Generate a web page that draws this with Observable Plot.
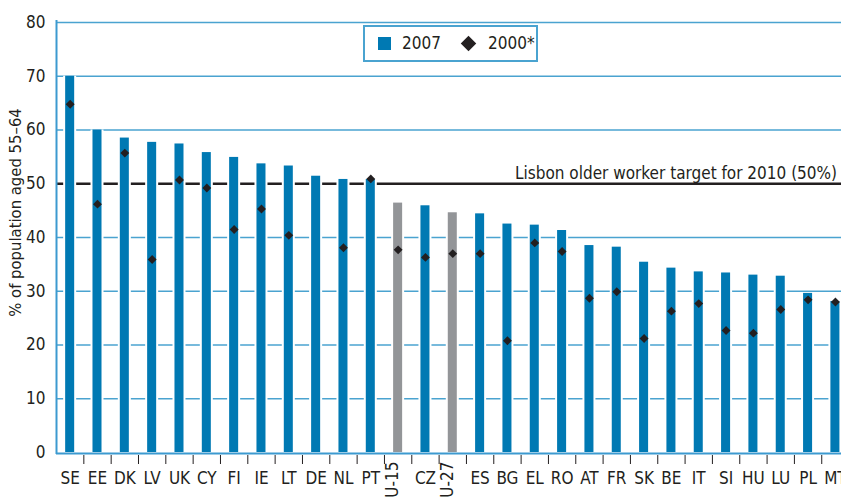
<!DOCTYPE html>
<html>
<head>
<meta charset="utf-8">
<script src="https://cdn.jsdelivr.net/npm/d3@7"></script>
<script src="https://cdn.jsdelivr.net/npm/@observablehq/plot@0.6"></script>
<style>
  html, body { margin: 0; padding: 0; background: #fff; overflow: hidden; }
  #wrap { position: relative; width: 841px; height: 497px; font-family: "Liberation Sans Narrow", "Arial Narrow", "DejaVu Sans Condensed", sans-serif; color: #231f20; }
  #legend { position: absolute; left: 363px; top: 25px; width: 171px; height: 33px; border: 2px solid #4aa3d0; background: #fff; font-size: 17px; }
  #legend .sq { position: absolute; left: 13px; top: 10px; width: 13px; height: 13px; background: #0079b3; }
  #legend .dm { position: absolute; left: 98px; top: 11px; width: 11px; height: 11px; background: #231f20; transform: rotate(45deg); }
  #legend .t { position: absolute; top: 0; line-height: 33px; }
</style>
</head>
<body>
<div id="wrap">
  <div id="chart"></div>
  <div id="legend">
    <div class="sq"></div><div class="t" style="left:37px">2007</div>
    <div class="dm"></div><div class="t" style="left:123px">2000*</div>
  </div>
</div>
<script>
const countries = ["SE","EE","DK","LV","UK","CY","FI","IE","LT","DE","NL","PT","EU-15","CZ","EU-27","ES","BG","EL","RO","AT","FR","SK","BE","IT","SI","HU","LU","PL","MT"];
const values2007 = [70.0,60.0,58.5,57.7,57.4,55.8,54.9,53.7,53.3,51.4,50.8,50.8,46.4,45.9,44.6,44.4,42.5,42.3,41.3,38.5,38.2,35.4,34.3,33.6,33.4,33.0,32.8,29.6,28.1];
const values2000 = [64.8,46.2,55.7,35.9,50.7,49.2,41.5,45.3,40.4,null,38.1,50.9,37.7,36.3,37.0,37.0,20.8,39.0,37.4,28.7,29.9,21.2,26.3,27.7,22.7,22.2,26.6,28.4,28.0];
const aggregates = ["EU-15","EU-27"];
const yTicks = [0,10,20,30,40,50,60,70,80];
const gridTicks = [10,20,30,40,50,60,70,80];
const lisbonTarget = 50;
const lisbonLabel = "Lisbon older worker target for 2010 (50%)";
const yLabel = "% of population aged 55–64";

const data = countries.map((c, i) => ({country: c, v2007: values2007[i], v2000: values2000[i]}));

const width = 841, height = 497;
const marginLeft = 56, marginTop = 22, marginBottom = 45;
const step = 27.33;
const marginRight = width - (marginLeft + step * countries.length);

const blue = "#0079b3", grey = "#939598", ink = "#231f20";
const gridColor = "#4aa3d0", axisColor = "#3c9ad0";

const isAgg = d => aggregates.includes(d.country);

const chart = Plot.plot({
  width, height, marginLeft, marginRight, marginTop, marginBottom,
  style: {fontFamily: '"Liberation Sans Narrow", "Arial Narrow", "DejaVu Sans Condensed", sans-serif', fontSize: "17px", color: ink, background: "transparent", overflow: "visible"},
  x: {domain: countries, paddingInner: 0.67, paddingOuter: 0.335, round: false},
  y: {domain: [0, 80]},
  marks: [
    Plot.ruleY(gridTicks, {stroke: gridColor, strokeWidth: 1.6}),
    Plot.ruleY([lisbonTarget], {stroke: ink, strokeWidth: 2.6}),
    Plot.ruleY([0], {stroke: axisColor, strokeWidth: 2, dy: 1}),
    Plot.ruleX([countries[0]], {dx: -step / 2, stroke: axisColor, strokeWidth: 2, insetTop: -2, insetBottom: -2}),
    Plot.barY(data, {x: "country", y: "v2007", fill: "white", insetLeft: -2, insetRight: -2}),
    Plot.barY(data, {filter: d => !isAgg(d), x: "country", y: "v2007", fill: blue}),
    Plot.barY(data, {filter: isAgg, x: "country", y: "v2007", fill: grey}),
    Plot.dot(data, {x: "country", y: "v2000", symbol: "diamond2", r: 4, fill: ink, stroke: "none"}),
    Plot.text([{y: lisbonTarget, label: lisbonLabel}], {y: "y", text: "label", frameAnchor: "right", textAnchor: "end", lineAnchor: "bottom", dx: -12, dy: -5, fill: ink, fontSize: 17}),
    Plot.axisY({ticks: yTicks, tickSize: 0, tickPadding: 11, label: null, fontSize: 17, fill: ink}),
    Plot.axisX({ticks: countries.filter(c => !aggregates.includes(c)), tickSize: 0, tickPadding: 19, label: null, fontSize: 17, fill: ink}),
    Plot.text(aggregates, {x: d => d, text: d => d, frameAnchor: "bottom", rotate: -90, textAnchor: "end", dy: 9, fontSize: 17, fill: ink}),
    Plot.axisX({ticks: countries, tickSize: 9, tickFormat: () => "", dx: step / 2, dy: 3, label: null, stroke: ink}),
    Plot.text([yLabel], {text: d => d, frameAnchor: "left", textAnchor: "middle", rotate: -90, dx: -41, dy: -25, fontSize: 16.5, fill: ink})
  ]
});
document.getElementById("chart").appendChild(chart);
</script>
</body>
</html>
